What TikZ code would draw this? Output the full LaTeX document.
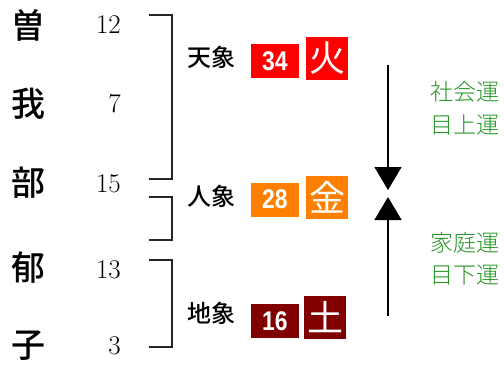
\documentclass[tikz,border=0pt]{standalone}
\usepackage{fontspec}
\newfontfamily\cjk{Noto Sans CJK JP}
\newfontfamily\cjkl{Noto Sans CJK JP Light}
\newfontfamily\cjkb{Noto Sans CJK JP Medium}
\newfontfamily\numf{Liberation Sans}
\usetikzlibrary{arrows.meta}
\definecolor{huo}{HTML}{FF0000}
\definecolor{jin}{HTML}{FF8000}
\definecolor{tu}{HTML}{800000}
\definecolor{unc}{HTML}{279527}
\begin{document}
\begin{tikzpicture}[x=1pt,y=-1pt,
  namech/.style={font=\cjkb\fontsize{34}{34}\selectfont,inner sep=0pt},
  strk/.style={font=\fontsize{27}{27}\selectfont,inner sep=0pt,anchor=east},
  brk/.style={line width=1.1pt,draw=black!85},
  lbl/.style={font=\cjkb\fontsize{24}{24}\selectfont,inner sep=0pt},
  numbox/.style={fill=#1,text=white,minimum width=48pt,minimum height=34pt,inner sep=0pt,
     font=\numf\bfseries\fontsize{27}{27}\selectfont},
  elbox/.style={fill=#1,text=white,minimum width=42pt,minimum height=43pt,inner sep=0pt,
     font=\cjk\fontsize{36}{36}\selectfont},
  unlbl/.style={font=\cjkl\fontsize{23}{23}\selectfont,text=unc,inner sep=0pt},
  tri/.style={-{Triangle[width=27pt,length=23pt]},line width=1.3pt}]
\useasboundingbox (0,0) rectangle (504,369);
% name characters
\node[namech] (c1) at (28,25) {曽};
\node[namech] (c2) at (28,104) {我};
\node[namech] (c3) at (28,183) {部};
\node[namech] (c4) at (28,268) {郁};
\node[namech] (c5) at (28,346) {子};
% stroke counts
\node[strk] (n1) at (121,25) {12};
\node[strk] (n2) at (121,104) {7};
\node[strk] (n3) at (121,184) {15};
\node[strk] (n4) at (121,270) {13};
\node[strk] (n5) at (121,346) {3};
% brackets
\draw[brk] (149,15) -- (172,15) -- (172,179) -- (149,179);
\draw[brk] (149,197) -- (172,197) -- (172,240) -- (149,240);
\draw[brk] (149,260) -- (172,260) -- (172,347) -- (149,347);
% labels
\node[lbl] (l1) at (211,57) {天象};
\node[lbl] (l2) at (211,196) {人象};
\node[lbl] (l3) at (211,313) {地象};
% number boxes
\node[numbox=huo] (b1) at (275,61) {\scalebox{0.85}[1]{34}};
\node[numbox=jin] (b2) at (275,199.5) {\scalebox{0.85}[1]{28}};
\node[numbox=tu] (b3) at (275,321) {\scalebox{0.85}[1]{16}};
% element boxes
\node[elbox=huo] (e1) at (327,58.5) {火};
\node[elbox=jin] (e2) at (327,197) {金};
\node[elbox=tu] (e3) at (325,317.5) {土};
% arrows
\coordinate (atop) at (388,65);
\coordinate (tipdown) at (388,190);
\coordinate (tipup) at (388,197);
\coordinate (abot) at (388,316);
\draw[tri] (atop) -- (tipdown);
\draw[tri] (abot) -- (tipup);
% green labels
\node[unlbl] (g1) at (465,92) {社会運};
\node[unlbl] (g2) at (465,125) {目上運};
\node[unlbl] (g3) at (465,243) {家庭運};
\node[unlbl] (g4) at (465,275) {目下運};
\end{tikzpicture}
\end{document}
